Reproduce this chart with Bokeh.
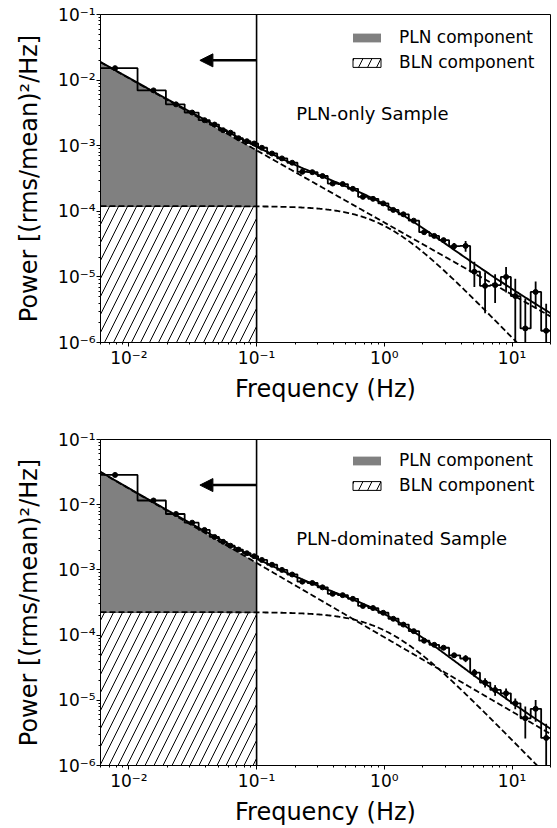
import numpy as np
from bokeh.plotting import figure
from bokeh.layouts import column
from bokeh.models import (FixedTicker, CustomJSTickFormatter, Legend, LegendItem,
                          Span, Label, Arrow, NormalHead, Range1d)
from bokeh.embed import file_html
from bokeh.resources import INLINE

# ---------------- data ----------------
freq = [0.0078, 0.0156, 0.0234, 0.0313, 0.0391, 0.0469, 0.0547, 0.0625, 0.0723, 0.0840,
        0.0957, 0.110, 0.132, 0.158, 0.190, 0.228, 0.273, 0.328, 0.394, 0.472,
        0.567, 0.680, 0.816, 0.980, 1.175, 1.41, 1.70, 2.05, 2.46, 2.91,
        3.52, 4.33, 5.07, 6.15, 7.37, 8.98, 10.6, 12.7, 15.3, 18.5]

top_power = [1.52e-2, 6.97e-3, 4.27e-3, 3.20e-3, 2.45e-3, 2.10e-3, 1.72e-3, 1.58e-3, 1.30e-3, 1.17e-3,
             1.08e-3, 9.3e-4, 7.6e-4, 6.4e-4, 5.5e-4, 4.0e-4, 3.95e-4, 3.45e-4, 2.65e-4, 2.60e-4,
             2.20e-4, 1.66e-4, 1.55e-4, 1.32e-4, 1.05e-4, 9.0e-5, 7.2e-5, 4.8e-5, 4.22e-5, 3.63e-5,
             2.94e-5, 2.97e-5, 1.20e-5, 7.3e-6, 7.5e-6, 1.0e-5, 5.1e-6, 1.64e-6, 5.9e-6, 1.51e-6]
top_err = [4e-4, 1.5e-4, 8e-5, 5e-5, 4e-5, 3e-5, 2.5e-5, 2.2e-5, 1.8e-5, 1.6e-5,
           1.5e-5, 1.3e-5, 1.1e-5, 9e-6, 8e-6, 7e-6, 6e-6, 5.5e-6, 5e-6, 4.5e-6,
           4e-6, 3.8e-6, 3.5e-6, 3.3e-6, 3.2e-6, 3.1e-6, 3.0e-6, 3.0e-6, 3.0e-6, 3.2e-6,
           3.4e-6, 5.6e-6, 5.0e-6, 4.5e-6, 3.5e-6, 4.2e-6, 4.3e-6, 3.05e-6, 2.6e-6, 2.4e-6]

bot_power = [2.86e-2, 1.16e-2, 7.2e-3, 5.3e-3, 4.1e-3, 3.2e-3, 2.70e-3, 2.35e-3, 2.05e-3, 1.80e-3,
             1.62e-3, 1.42e-3, 1.20e-3, 1.0e-3, 8.5e-4, 6.6e-4, 6.3e-4, 5.4e-4, 4.3e-4, 4.1e-4,
             3.6e-4, 2.8e-4, 2.6e-4, 2.2e-4, 1.78e-4, 1.45e-4, 1.15e-4, 8.2e-5, 7.1e-5, 6.4e-5,
             4.9e-5, 4.38e-5, 2.65e-5, 1.87e-5, 1.44e-5, 1.28e-5, 9.0e-6, 5.3e-6, 7.4e-6, 2.65e-6]
bot_err = [7e-4, 2.5e-4, 1.3e-4, 9e-5, 7e-5, 5e-5, 4e-5, 3.5e-5, 3e-5, 2.6e-5,
           2.3e-5, 2e-5, 1.7e-5, 1.4e-5, 1.2e-5, 1e-5, 9e-6, 8e-6, 7e-6, 6e-6,
           5.5e-6, 5e-6, 4.5e-6, 4e-6, 3.6e-6, 3.3e-6, 3.0e-6, 2.8e-6, 3.5e-6, 4e-6,
           4e-6, 5.3e-6, 3.7e-6, 3.0e-6, 2.7e-6, 2.4e-6, 1.7e-6, 2.7e-6, 2.7e-6, 1.7e-6]

# model parameters (power-law noise + zero-centred Lorentzian band-limited noise)
top_model = dict(pl_norm=8.5e-4, pl_index=1.10, bl_norm=1.2e-4, bl_break=1.0)
bot_model = dict(pl_norm=1.28e-3, pl_index=1.14, bl_norm=2.25e-4, bl_break=1.05)
samples = ["PLN-only Sample", "PLN-dominated Sample"]
legend_labels = ["PLN component", "BLN component"]

f_split = 0.1
x_lo, x_hi = 0.006, 20.0
y_lo, y_hi = 1e-6, 1e-1
FONT = "DejaVu Sans"


def pln(f, m):
    return m["pl_norm"] * (np.asarray(f) / 0.1) ** (-m["pl_index"])


def bln(f, m):
    return m["bl_norm"] / (1.0 + (np.asarray(f) / m["bl_break"]) ** 2)


def step_path(fr, pw):
    fr = np.asarray(fr, float)
    pw = np.asarray(pw, float)
    mids = (fr[1:] + fr[:-1]) / 2
    edges = np.concatenate([[fr[0] - (fr[1] - fr[0]) / 2], mids, [fr[-1] + (fr[-1] - fr[-2]) / 2]])
    xs = np.repeat(edges, 2)[1:-1]
    ys = np.repeat(pw, 2)
    return xs, ys


tick_js = """
const e = Math.round(Math.log10(tick));
const m = {"-": "\\u207b", "0": "\\u2070", "1": "\\u00b9", "2": "\\u00b2", "3": "\\u00b3",
           "4": "\\u2074", "5": "\\u2075", "6": "\\u2076", "7": "\\u2077", "8": "\\u2078", "9": "\\u2079"};
return "10" + String(e).split("").map(c => m[c]).join("");
"""


def make_panel(power, err, model, sample, top_border, bottom_border):
    p = figure(width=557, height=414, x_axis_type="log", y_axis_type="log",
               x_range=Range1d(x_lo, x_hi), y_range=Range1d(y_lo, y_hi),
               output_backend="svg", toolbar_location=None,
               min_border_left=100, min_border_right=7,
               min_border_top=top_border, min_border_bottom=bottom_border)
    p.grid.visible = False
    p.outline_line_color = "black"
    p.outline_line_width = 1
    p.background_fill_color = "white"

    xm = np.logspace(np.log10(x_lo), np.log10(x_hi), 400)
    level = model["bl_norm"]

    # hatched BLN region and grey PLN region (below the split frequency)
    r_bln = p.quad(left=[x_lo], right=[f_split], bottom=[y_lo], top=[level],
                   fill_color="white", line_color="black", line_width=1,
                   hatch_pattern="/", hatch_color="black", hatch_scale=18, hatch_weight=1)
    xg = xm[xm <= f_split]
    xg = np.append(xg, f_split)
    r_pln = p.varea(x=xg, y1=np.full_like(xg, level), y2=pln(xg, model),
                    fill_color="#808080")

    # model components
    p.line(xm, pln(xm, model), line_color="black", line_width=1.8, line_dash="6 3")
    p.line(xm, bln(xm, model), line_color="black", line_width=1.8, line_dash="6 3")
    p.line(xm, pln(xm, model) + bln(xm, model), line_color="black", line_width=1.9)

    # data
    sx, sy = step_path(freq, power)
    p.line(sx, sy, line_color="black", line_width=1.8)
    pw = np.asarray(power)
    er = np.asarray(err)
    low = np.where(pw - er > 0, pw - er, 1e-9)
    p.segment(x0=freq, y0=low, x1=freq, y1=pw + er, line_color="black", line_width=1.8)
    p.scatter(freq, power, size=5, color="black")

    p.add_layout(Span(location=f_split, dimension="height", line_color="black", line_width=1.6))
    p.add_layout(Arrow(end=NormalHead(size=13, fill_color="black", line_color="black"),
                       x_start=f_split, y_start=0.02, x_end=0.036, y_end=0.02,
                       line_color="black", line_width=2.5))

    p.add_layout(Label(x=0.204, y=3.08e-3, text=sample, text_font=FONT,
                       text_font_size="18px", text_color="black",
                       text_baseline="alphabetic", text_align="left"))

    legend = Legend(items=[LegendItem(label=legend_labels[0], renderers=[r_pln]),
                           LegendItem(label=legend_labels[1], renderers=[r_bln])],
                    location=(239, 260), glyph_width=35, glyph_height=11,
                    label_standoff=15, spacing=5, padding=10, label_height=20,
                    label_text_font=FONT, label_text_font_size="17px",
                    label_text_color="black",
                    border_line_alpha=0, background_fill_alpha=0)
    p.add_layout(legend)

    # axes
    p.xaxis.ticker = FixedTicker(ticks=[0.01, 0.1, 1, 10],
                                 minor_ticks=[k * 10.0 ** e for e in range(-3, 2) for k in range(2, 10)])
    p.yaxis.ticker = FixedTicker(ticks=[1e-6, 1e-5, 1e-4, 1e-3, 1e-2, 1e-1],
                                 minor_ticks=[k * 10.0 ** e for e in range(-7, 0) for k in range(2, 10)])
    for ax in (p.xaxis[0], p.yaxis[0]):
        ax.formatter = CustomJSTickFormatter(code=tick_js)
        ax.major_label_text_font = FONT
        ax.major_label_text_font_size = "17px"
        ax.major_label_text_color = "black"
        ax.axis_label_text_font = FONT
        ax.axis_label_text_font_size = "24px"
        ax.axis_label_text_font_style = "normal"
        ax.axis_label_text_color = "black"
        ax.axis_line_color = "black"
        ax.major_tick_line_color = "black"
        ax.minor_tick_line_color = "black"
        ax.major_tick_in = 0
        ax.major_tick_out = 4
        ax.minor_tick_in = 0
        ax.minor_tick_out = 2
    p.xaxis.axis_label = "Frequency (Hz)"
    p.yaxis.axis_label = "Power [(rms/mean)\u00b2/Hz]"
    p.xaxis.major_label_standoff = 1
    p.yaxis.major_label_standoff = 1
    p.xaxis.axis_label_standoff = 4
    p.yaxis.axis_label_standoff = 12
    return p


p1 = make_panel(top_power, top_err, top_model, samples[0], 14, 72)
p2 = make_panel(bot_power, bot_err, bot_model, samples[1], 25, 61)

layout = column(p1, p2, spacing=0)
open("out.html", "w").write(file_html(layout, INLINE))
